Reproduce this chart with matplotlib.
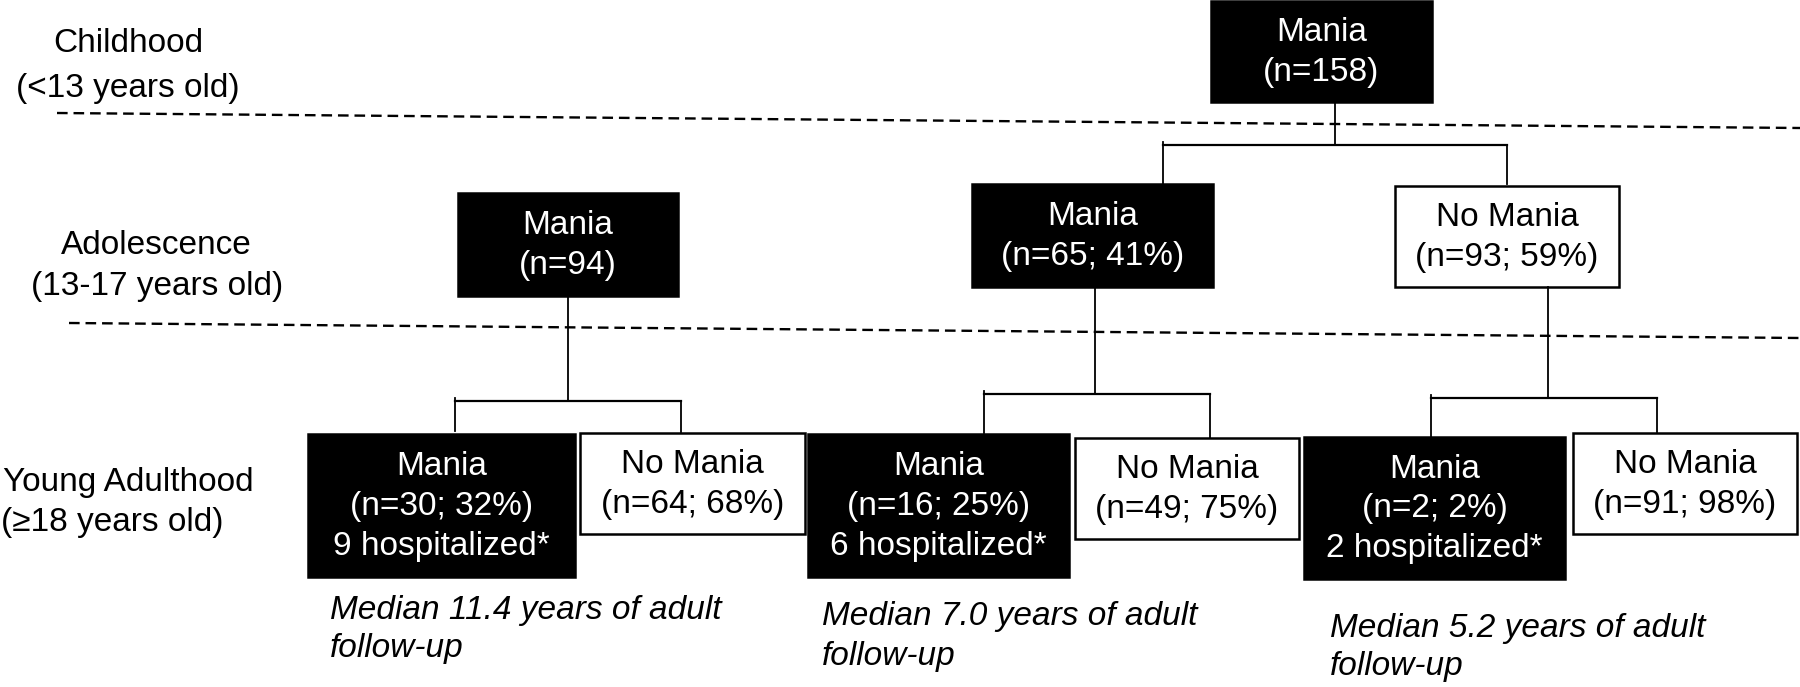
import matplotlib.pyplot as plt
from matplotlib.patches import Rectangle

plt.rcParams['font.family'] = ['Liberation Sans', 'DejaVu Sans']

# stage labels on the left
stage_names = ["Childhood", "Adolescence", "Young Adulthood"]
stage_ages = ["(<13 years old)", "(13-17 years old)", "(\u226518 years old)"]

# node data
node_status = ["Mania",
               "Mania", "Mania", "No Mania",
               "Mania", "No Mania", "Mania", "No Mania", "Mania", "No Mania"]
node_n = [158, 94, 65, 93, 30, 64, 16, 49, 2, 91]
node_pct = [None, None, 41, 59, 32, 68, 25, 75, 2, 98]
node_hosp = [None, None, None, None, 9, None, 6, None, 2, None]
followup_years = [11.4, 7.0, 5.2]

# layout (pixel space, y down): x0, x1, y0, y1
boxes = [(1211, 1432, 1, 102),
         (458, 678, 193, 296), (972, 1213, 184, 287), (1395, 1619, 186, 287),
         (308, 575, 434, 577), (580, 805, 433, 534), (808, 1069, 434, 577),
         (1075, 1299, 438, 539), (1304, 1565, 437, 579), (1573, 1797, 433, 534)]

fig = plt.figure(figsize=(18, 6.87), dpi=100)
ax = fig.add_axes([0, 0, 1, 1])
ax.set_xlim(0, 1800)
ax.set_ylim(687, 0)
ax.axis('off')

FS = 24

# dashed separators
ax.plot([57, 1800], [113, 128], ls=(0, (4.5, 2.5)), color='black', lw=1.7)
ax.plot([69, 1800], [323, 338], ls=(0, (4.5, 2.5)), color='black', lw=1.7)

# stage labels
ax.text(128, 43, stage_names[0], fontsize=FS, ha='center', va='center')
ax.text(128, 88, stage_ages[0], fontsize=FS, ha='center', va='center')
ax.text(156, 245, stage_names[1], fontsize=FS, ha='center', va='center')
ax.text(157, 287, stage_ages[1], fontsize=FS, ha='center', va='center')
ax.text(3, 483, stage_names[2], fontsize=FS, ha='left', va='center')
ax.text(1, 522, stage_ages[2], fontsize=FS, ha='left', va='center')

# connectors: parent x, parent bottom, bar y, left x, right x, left end, right end
links = [(1335, 102, 145, 1163, 1507, 184, 184),
         (568, 296, 401, 455, 681, 431, 432),
         (1095, 287, 394, 984, 1210, 433, 438),
         (1548, 287, 398, 1431, 1657, 437, 432)]
for px, pb, by, lx, rx, le, re in links:
    ax.plot([px, px], [pb, by], color='black', lw=1.3)
    ax.plot([lx, rx], [by, by], color='black', lw=1.6)
    ax.plot([lx, lx], [by - 3, le], color='black', lw=1.3)
    ax.plot([rx, rx], [by, re], color='black', lw=1.3)

# boxes
for i, (x0, x1, y0, y1) in enumerate(boxes):
    filled = node_status[i] == "Mania"
    ax.add_patch(Rectangle((x0, y0), x1 - x0, y1 - y0,
                           facecolor='black' if filled else 'white',
                           edgecolor='black', lw=1.8))
    lines = [node_status[i]]
    if node_pct[i] is None:
        lines.append(f"(n={node_n[i]})")
    else:
        lines.append(f"(n={node_n[i]}; {node_pct[i]}%)")
    if node_hosp[i] is not None:
        lines.append(f"{node_hosp[i]} hospitalized*")
    cx = (x0 + x1) / 2
    cy = (y0 + y1) / 2 + 1
    ax.text(cx, cy, "\n".join(lines), fontsize=FS, ha='center', va='center',
            color='white' if filled else 'black', linespacing=1.37)

# follow-up notes
note_pos = [(330, 610), (822, 617), (1330, 628)]
for yrs, (nx, ny) in zip(followup_years, note_pos):
    ax.text(nx, ny, f"Median {yrs:.1f} years of adult", fontsize=FS,
            style='italic', ha='left', va='center')
    ax.text(nx, ny + 39, "follow-up", fontsize=FS,
            style='italic', ha='left', va='center')

fig.savefig("out.png", dpi=100)
